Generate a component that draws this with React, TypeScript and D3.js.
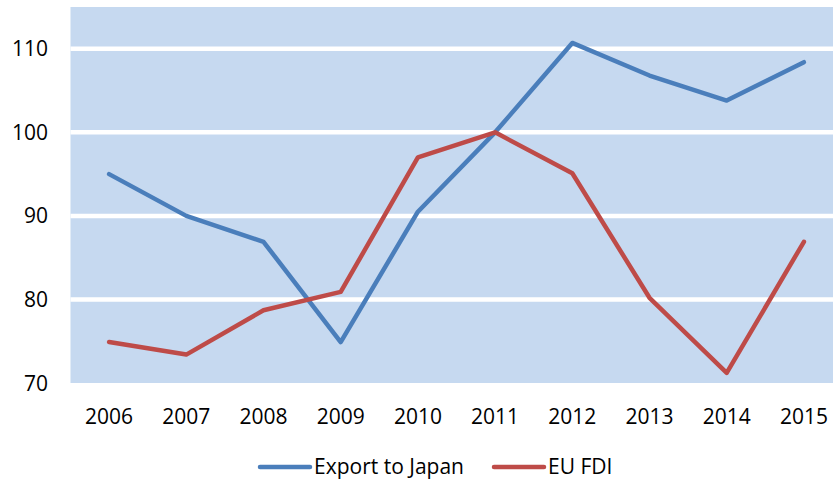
import { useEffect, useRef } from "react";
import * as d3 from "d3";

const years = ["2006", "2007", "2008", "2009", "2010", "2011", "2012", "2013", "2014", "2015"];
const exportJapan = [95.0, 90.0, 86.9, 74.9, 90.5, 100.0, 110.7, 106.8, 103.8, 108.4];
const euFdi = [74.9, 73.4, 78.7, 80.9, 97.0, 100.0, 95.1, 80.2, 71.2, 86.9];
const yTicks = [70, 80, 90, 100, 110];
const seriesNames = ["Export to Japan", "EU FDI"];
const colors = ["#4A7EBB", "#BE4B48"];

export default function App() {
  const ref = useRef<SVGSVGElement | null>(null);

  useEffect(() => {
    if (!ref.current) return;
    const svg = d3.select(ref.current);
    svg.selectAll("*").remove();

    const width = 833, height = 482;
    const plot = { left: 70.5, right: 842.5, top: 7, bottom: 383 };
    const font = "'Open Sans', 'Liberation Sans', sans-serif";

    const x = d3.scaleBand().domain(years).range([plot.left, plot.right]).padding(0);
    const cx = (d: string) => (x(d) || 0) + x.bandwidth() / 2;
    const y = d3.scaleLinear().domain([70, 115]).range([plot.bottom, plot.top]);

    svg.attr("width", width).attr("height", height);

    svg.append("rect")
      .attr("x", plot.left).attr("y", plot.top)
      .attr("width", plot.right - plot.left).attr("height", plot.bottom - plot.top)
      .attr("fill", "#C6D9F0");

    // white gridlines
    svg.append("g")
      .selectAll("line")
      .data(yTicks.filter(t => t > 70))
      .join("line")
      .attr("x1", plot.left).attr("x2", plot.right)
      .attr("y1", d => y(d)).attr("y2", d => y(d))
      .attr("stroke", "#fff").attr("stroke-width", 4.5);

    // y labels
    svg.append("g")
      .selectAll("text")
      .data(yTicks)
      .join("text")
      .attr("x", 48).attr("y", d => y(d) + 7.5)
      .attr("text-anchor", "end")
      .attr("font-family", font).attr("font-size", 21).attr("fill", "#000")
      .text(d => d);

    // x labels
    svg.append("g")
      .selectAll("text")
      .data(years)
      .join("text")
      .attr("x", d => cx(d)).attr("y", 424)
      .attr("text-anchor", "middle")
      .attr("font-family", font).attr("font-size", 21).attr("fill", "#000")
      .text(d => d);

    const line = d3.line<number>()
      .x((_, i) => cx(years[i]))
      .y(d => y(d));

    [exportJapan, euFdi].forEach((s, i) => {
      svg.append("path")
        .attr("d", line(s) || "")
        .attr("fill", "none")
        .attr("stroke", colors[i])
        .attr("stroke-width", 4.5)
        .attr("stroke-linejoin", "round")
        .attr("stroke-linecap", "round");
    });

    // legend
    const legendX = [260, 494];
    const lg = svg.append("g");
    seriesNames.forEach((name, i) => {
      lg.append("line")
        .attr("x1", legendX[i]).attr("x2", legendX[i] + 50)
        .attr("y1", 467).attr("y2", 467)
        .attr("stroke", colors[i]).attr("stroke-width", 4.5).attr("stroke-linecap", "round");
      lg.append("text")
        .attr("x", legendX[i] + 54).attr("y", 474)
        .attr("font-family", font).attr("font-size", 21).attr("fill", "#000")
        .text(name);
    });
  }, []);

  return (
    <div style={{ position: "absolute", left: 0, top: 0, width: 833, height: 482, overflow: "hidden", background: "#fff" }}>
      <svg ref={ref} style={{ display: "block" }} />
    </div>
  );
}
